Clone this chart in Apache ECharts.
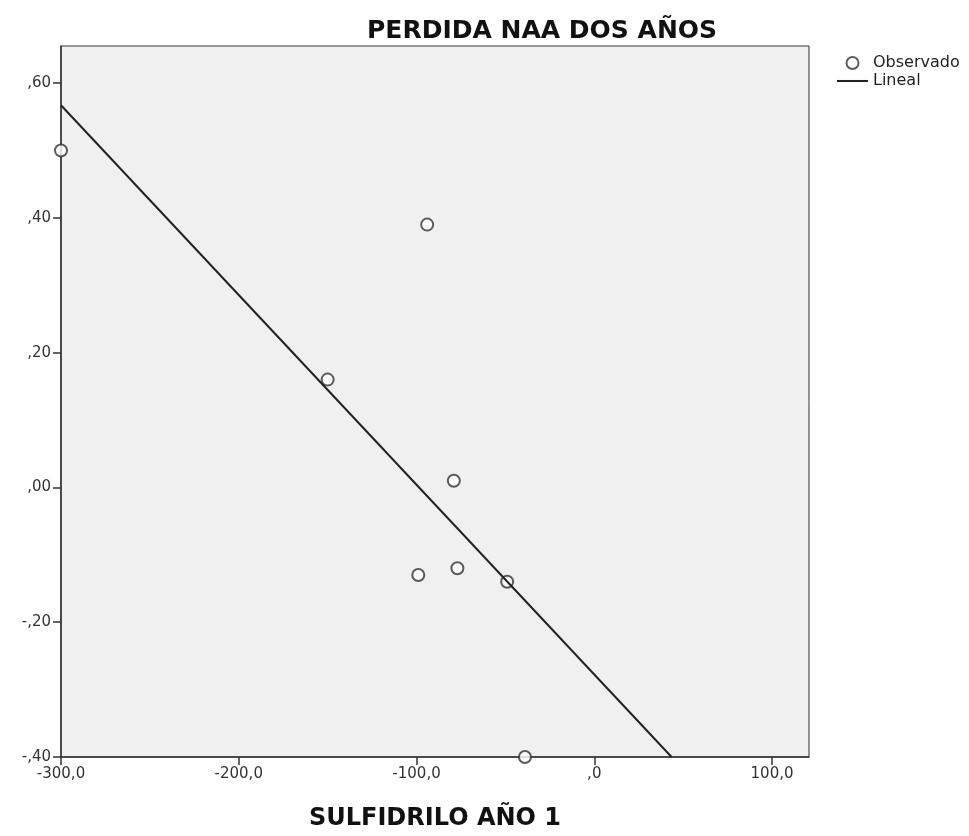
<!DOCTYPE html>
<html>
<head>
<meta charset="utf-8">
<script src="https://cdn.jsdelivr.net/npm/echarts@6/dist/echarts.min.js"></script>
<style>
  html, body { margin: 0; padding: 0; background: #fff; }
  #chart { width: 969px; height: 836px; }
</style>
</head>
<body>
<div id="chart"></div>
<script>
// observed points (sulfidrilo año 1, pérdida NAA)
var obsX = [-300, -94, -150, -79, -99, -77, -49, -39];
var obsY = [0.50, 0.39, 0.16, 0.01, -0.13, -0.12, -0.14, -0.40];
// fitted linear line, read at its two ends
var fitX = [-300, 43.5];
var fitY = [0.567, -0.40];
var xTicks = [-300, -200, -100, 0, 100];
var yTicks = [-0.4, -0.2, 0, 0.2, 0.4, 0.6];

// spss style numbers: comma decimal, no leading zero
function fmt(v, dec) {
  var s = Math.abs(v).toFixed(dec).replace('.', ',');
  if (s.charAt(0) === '0') s = s.substring(1);
  return (v < 0 ? '-' : '') + s;
}

var chart = echarts.init(document.getElementById('chart'));
var font = 'DejaVu Sans';

var option = {
  backgroundColor: '#fff',
  animation: false,
  title: {
    text: 'PERDIDA NAA DOS AÑOS',
    left: 362,
    top: 14,
    textStyle: { fontFamily: font, fontWeight: 'bold', fontSize: 25, color: '#111' }
  },
  legend: {
    orient: 'vertical',
    left: 832,
    top: 50,
    itemWidth: 31,
    itemHeight: 12,
    itemGap: 2,
    itemTextGap: 6,
    textStyle: { fontFamily: font, fontSize: 16, color: '#222' },
    data: [
      { name: 'Observado', icon: 'emptyCircle' },
      { name: 'Lineal', icon: 'path://M0,0 L30,0 L30,2 L0,2 Z' }
    ]
  },
  grid: {
    left: 61, right: 160, top: 46, bottom: 79,
    show: true,
    backgroundColor: '#f0f0f0',
    borderColor: '#333',
    borderWidth: 1
  },
  xAxis: {
    type: 'value',
    min: -300,
    max: 120.8,
    interval: 100,
    name: 'SULFIDRILO AÑO 1',
    nameLocation: 'middle',
    nameGap: 50,
    nameTextStyle: { fontFamily: font, fontWeight: 'bold', fontSize: 24, color: '#111' },
    splitLine: { show: false },
    axisLine: { onZero: false, lineStyle: { color: '#333', width: 1.5 } },
    axisTick: { show: true, length: 8, customValues: xTicks, lineStyle: { color: '#333', width: 1.5 } },
    axisLabel: {
      customValues: xTicks,
      fontFamily: font, fontSize: 15, color: '#333', margin: 10,
      formatter: function (v) { return fmt(v, 1); }
    }
  },
  yAxis: {
    type: 'value',
    min: -0.4,
    max: 0.655,
    interval: 0.2,
    splitLine: { show: false },
    axisLine: { onZero: false, lineStyle: { color: '#333', width: 1.5 } },
    axisTick: { show: true, length: 8, customValues: yTicks, lineStyle: { color: '#333', width: 1.5 } },
    axisLabel: {
      customValues: yTicks,
      fontFamily: font, fontSize: 15, color: '#333', margin: 10,
      formatter: function (v) { return fmt(v, 2); }
    }
  },
  series: [
    {
      name: 'Observado',
      type: 'scatter',
      symbol: 'emptyCircle',
      symbolSize: 12,
      itemStyle: { color: '#333', borderColor: '#333', borderWidth: 1.8 },
      data: obsX.map(function (x, i) { return [x, obsY[i]]; })
    },
    {
      name: 'Lineal',
      type: 'line',
      symbol: 'none',
      clip: true,
      lineStyle: { color: '#222', width: 2 },
      itemStyle: { color: '#222' },
      data: fitX.map(function (x, i) { return [x, fitY[i]]; })
    }
  ]
};

chart.setOption(option);
</script>
</body>
</html>
